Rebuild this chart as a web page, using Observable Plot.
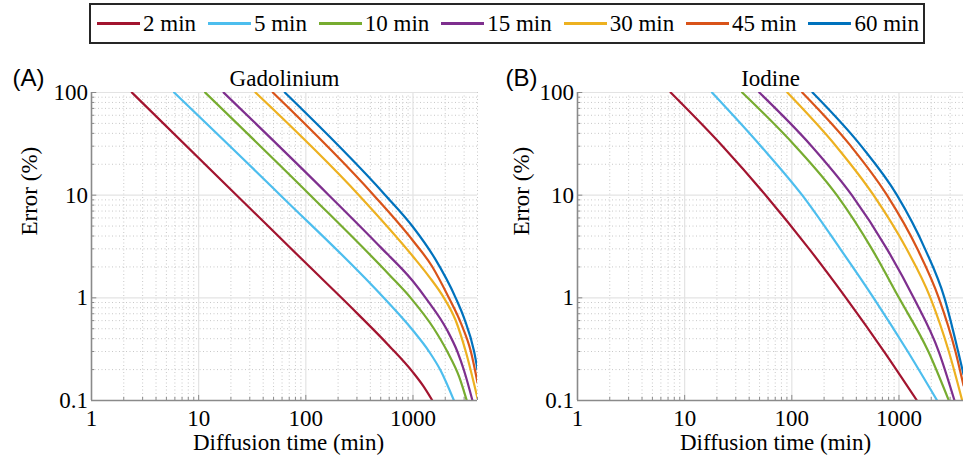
<!DOCTYPE html>
<html><head><meta charset="utf-8">
<script src="https://cdn.jsdelivr.net/npm/d3@7"></script>
<script src="https://cdn.jsdelivr.net/npm/@observablehq/plot@0.6"></script>
<style>
body{margin:0;background:#fff;width:963px;height:462px;overflow:hidden;font-family:'Liberation Serif';}
#legend{position:absolute;left:89px;top:3px;width:822px;height:37px;border:2px solid #262626;display:flex;align-items:center;justify-content:space-between;padding:0 4px 0 6px;background:#fff;z-index:2;font-family:'Liberation Serif';}
.item{display:flex;align-items:center;font-size:23px;color:#000;font-family:'Liberation Serif';}
.sw{display:inline-block;width:43px;height:2.6px;margin-right:3px;}
#row{position:absolute;left:0;top:46px;display:flex;}
</style></head>
<body>
<div id="legend"></div>
<div id="row"></div>
<script>
const FONT = "Liberation Serif";
const seriesNames = ["2 min","5 min","10 min","15 min","30 min","45 min","60 min"];
const seriesColors = ["#A2142F","#4DBEEE","#77AC30","#7E2F8E","#EDB120","#D95319","#0072BD"];
const xMajor = [1,10,100,1000];
const yMajor = [0.1,1,10,100];

// Gadolinium: [diffusion time (min), error (%)]
const gd2  = [[2.38,100],[22.6,10],[100,2.18],[300,0.71],[600,0.34],[1000,0.188],[1250,0.138],[1517,0.1]];
const gd5  = [[5.9,100],[57.9,10],[534,1],[1000,0.48],[1412,0.3],[1816,0.195],[2412,0.1]];
const gd10 = [[11.5,100],[110,10],[600,1.68],[951,1],[1570,0.5],[2089,0.3],[2700,0.17],[3176,0.1]];
const gd15 = [[17.1,100],[164,10],[500,3.1],[1000,1.45],[1312,1],[2094,0.48],[2594,0.3],[3000,0.195],[3590,0.1]];
const gd30 = [[33.9,100],[313,10],[1000,2.53],[1400,1.63],[1944,1],[2500,0.605],[3108,0.3],[4000,0.105]];
const gd45 = [[49.2,100],[430,10],[1000,3.6],[1500,2.04],[2162,1],[2800,0.567],[3468,0.3],[4000,0.15]];
const gd60 = [[63.7,100],[552,10],[1000,4.9],[1600,2.42],[2502,1],[3000,0.635],[3720,0.3],[4000,0.2]];

// Iodine
const io2  = [[7.4,100],[22.6,30],[57,10],[145,3],[320,1],[726,0.3],[1472,0.1]];
const io5  = [[18,100],[51.5,30],[125,10],[283,3],[579,1],[1208,0.3],[2270,0.1]];
const io10 = [[34.4,100],[108,30],[263,10],[558,3],[1000,1],[1880,0.3],[2918,0.1]];
const io15 = [[49.7,100],[153,30],[363,10],[771,3],[1371,1],[2350,0.3],[3296,0.1]];
const io30 = [[90.8,100],[259,30],[579,10],[1176,3],[1965,1],[2918,0.3],[3890,0.1]];
const io45 = [[125,100],[356,30],[773,10],[1483,3],[2350,1],[3366,0.3],[4000,0.14]];
const io60 = [[156,100],[445,30],[958,10],[1749,3],[2656,1],[3566,0.3],[4000,0.18]];

const gdSeries = [gd2,gd5,gd10,gd15,gd30,gd45,gd60];
const ioSeries = [io2,io5,io10,io15,io30,io45,io60];

function rows(list){
  return list.flatMap((pts,i)=>pts.map(([t,e])=>({t,e,s:seriesNames[i]})));
}
const xMinor = d3.range(0,4).flatMap(k=>d3.range(2,10).map(m=>m*10**k)).filter(v=>v<=4000);
const yMinor = d3.range(-1,2).flatMap(k=>d3.range(2,10).map(m=>+(m*10**k).toPrecision(3)));

function panel({list,title,tag,width,marginLeft,marginRight,tagDx,ylabDx,xlabDx}){
  const axisColor="#8a8a8a";
  return Plot.plot({
    width, height:416, marginTop:46, marginBottom:62, marginLeft, marginRight,
    style:{fontFamily:FONT,fontSize:"23px",color:"#000",background:"transparent",overflow:"visible"},
    x:{type:"log",domain:[1,4000],ticks:xMajor,tickFormat:d=>String(d),tickSize:0,tickPadding:9,label:null},
    y:{type:"log",domain:[0.1,100],ticks:yMajor,tickFormat:d=>String(d),tickSize:0,tickPadding:3.5,label:null},
    color:{domain:seriesNames,range:seriesColors},
    marks:[
      Plot.ruleX(xMinor,{stroke:"#c8c8c8",strokeDasharray:"1,2.5",strokeWidth:1}),
      Plot.ruleY(yMinor,{stroke:"#c8c8c8",strokeDasharray:"1,2.5",strokeWidth:1}),
      Plot.ruleX(xMajor.slice(1),{stroke:"#e3e3e3",strokeWidth:1.2}),
      Plot.ruleY(yMajor.slice(1),{stroke:"#e3e3e3",strokeWidth:1.2}),
      Plot.ruleX(xMinor,{y1:0.1,y2:0.1*1.07,stroke:axisColor,strokeWidth:1}),
      Plot.ruleY(yMinor,{x1:1,x2:1.07,stroke:axisColor,strokeWidth:1}),
      Plot.ruleX(xMajor,{y1:0.1,y2:0.1*1.12,stroke:axisColor,strokeWidth:1}),
      Plot.ruleY(yMajor,{x1:1,x2:1.12,stroke:axisColor,strokeWidth:1}),
      Plot.line(rows(list),{x:"t",y:"e",z:"s",stroke:"s",strokeWidth:2.2,curve:"monotone-x",clip:true}),
      Plot.ruleX([1],{stroke:axisColor,strokeWidth:1.6}),
      Plot.ruleY([0.1],{stroke:axisColor,strokeWidth:1.6}),
      Plot.text([title],{text:d=>d,frameAnchor:"top",dy:-23,fontSize:23,fontFamily:FONT}),
      Plot.text([tag],{text:d=>d,frameAnchor:"top-left",dx:tagDx,dy:-24,fontSize:24,fontFamily:"Liberation Sans",textAnchor:"middle"}),
      Plot.text(["Error (%)"],{text:d=>d,frameAnchor:"left",rotate:-90,dx:ylabDx,dy:-11,fontSize:23,fontFamily:FONT}),
      Plot.text(["Diffusion time (min)"],{text:d=>d,frameAnchor:"bottom",dy:49,dx:xlabDx,fontSize:23,fontFamily:FONT})
    ]
  });
}

const row=document.getElementById("row");
row.append(panel({list:gdSeries,title:"Gadolinium",tag:"(A)",width:481,marginLeft:91,marginRight:4,tagDx:-63,ylabDx:-62,xlabDx:4}));
row.append(panel({list:ioSeries,title:"Iodine",tag:"(B)",width:482,marginLeft:96,marginRight:0,tagDx:-56,ylabDx:-56,xlabDx:5}));

const legend=document.getElementById("legend");
seriesNames.forEach((n,i)=>{
  const it=document.createElement("div");it.className="item";
  const sw=document.createElement("span");sw.className="sw";sw.style.background=seriesColors[i];
  const lb=document.createElement("span");lb.textContent=n;
  it.append(sw,lb);legend.append(it);
});
</script>
</body></html>
